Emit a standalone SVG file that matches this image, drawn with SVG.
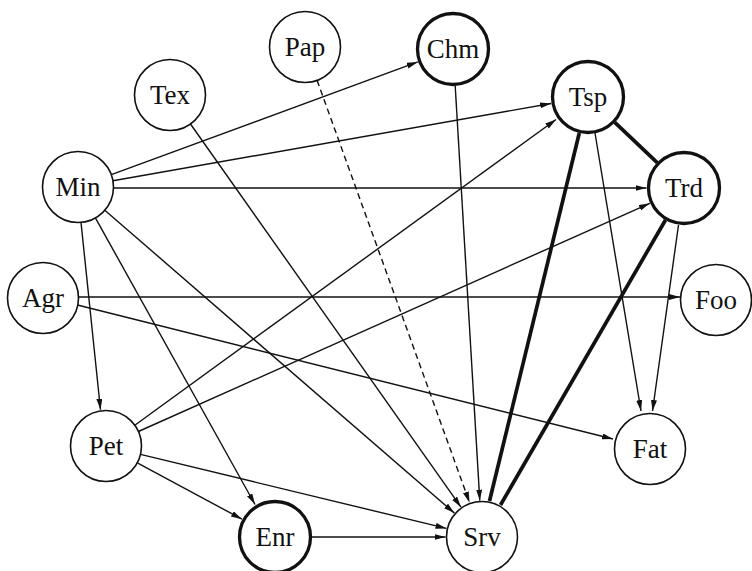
<svg xmlns="http://www.w3.org/2000/svg" width="752" height="571" viewBox="0 0 752 571">
<style>
.n{fill:#fff;stroke:#111;stroke-width:1.6}
.k{fill:#fff;stroke:#111;stroke-width:3.3}
.t{font-family:"Liberation Serif","Times New Roman",serif;font-size:27px;fill:#111;text-anchor:middle}
.e{stroke:#111;stroke-width:1.4;fill:none}
.a{marker-end:url(#ah)}
.d{stroke-dasharray:6,4}
.h{stroke:#111;stroke-width:3.7;fill:none}
</style>
<defs>
<marker id="ah" markerUnits="userSpaceOnUse" markerWidth="12" markerHeight="7" refX="11" refY="3" orient="auto">
<path d="M0,0 L11,3 L0,6 z" fill="#111"/>
</marker>
</defs>
<rect width="752" height="571" fill="#fff"/>
<g id="edges">
<line class="e a" x1="111.3" y1="174.7" x2="417.8" y2="61.9"/>
<line class="e a" x1="113" y1="180.8" x2="551.1" y2="103.5"/>
<line class="e a" x1="113.5" y1="188" x2="646.5" y2="188"/>
<line class="e a" x1="81" y1="222.3" x2="100.5" y2="409.7"/>
<line class="e a" x1="95.4" y1="217.9" x2="255" y2="504.5"/>
<line class="e a" x1="104.8" y1="210.2" x2="454.4" y2="513.1"/>
<line class="e a" x1="190.5" y1="124" x2="461" y2="507.2"/>
<line class="e a d" x1="317.1" y1="80.4" x2="469.6" y2="502.7"/>
<line class="e a" x1="455.2" y1="85.9" x2="479.8" y2="500.6"/>
<line class="h" x1="579.3" y1="133" x2="489.5" y2="501"/>
<line class="h" x1="665.5" y1="220" x2="500.5" y2="505"/>
<line class="h" x1="614.8" y1="122.4" x2="657.2" y2="162.6"/>
<line class="e a" x1="595" y1="133" x2="641" y2="411"/>
<line class="e a" x1="678.5" y1="225" x2="652.5" y2="411"/>
<line class="e a" x1="78.5" y1="297" x2="680" y2="297"/>
<line class="e a" x1="77.4" y1="305" x2="613" y2="439"/>
<line class="e a" x1="134.8" y1="425.2" x2="556" y2="119.5"/>
<line class="e a" x1="138.4" y1="431.5" x2="649.8" y2="203.3"/>
<line class="e a" x1="140.5" y1="454.4" x2="446.5" y2="528.4"/>
<line class="e a" x1="137.3" y1="462.8" x2="242" y2="519.2"/>
<line class="e a" x1="312" y1="537" x2="445.5" y2="537"/>
</g>
<g id="Pap"><circle class="n" cx="305" cy="47" r="35.5"/><text class="t" x="305" y="56">Pap</text></g>
<g id="Chm"><circle class="k" cx="453" cy="49" r="35.5"/><text class="t" x="453" y="58">Chm</text></g>
<g id="Tex"><circle class="n" cx="170" cy="95" r="35.5"/><text class="t" x="170" y="104">Tex</text></g>
<g id="Tsp"><circle class="k" cx="588" cy="97" r="35.5"/><text class="t" x="588" y="106">Tsp</text></g>
<g id="Min"><circle class="n" cx="78" cy="187" r="35.5"/><text class="t" x="78" y="196">Min</text></g>
<g id="Trd"><circle class="k" cx="684" cy="188" r="35.5"/><text class="t" x="684" y="197">Trd</text></g>
<g id="Agr"><circle class="n" cx="43" cy="298" r="35.5"/><text class="t" x="43" y="307">Agr</text></g>
<g id="Foo"><circle class="n" cx="716" cy="300" r="35.5"/><text class="t" x="716" y="309">Foo</text></g>
<g id="Pet"><circle class="n" cx="106" cy="446" r="35.5"/><text class="t" x="106" y="455">Pet</text></g>
<g id="Fat"><circle class="n" cx="650" cy="449" r="35.5"/><text class="t" x="650" y="458">Fat</text></g>
<g id="Enr"><circle class="k" cx="275" cy="537" r="35.5"/><text class="t" x="275" y="546">Enr</text></g>
<g id="Srv"><circle class="n" cx="482" cy="537" r="35.5"/><text class="t" x="482" y="546">Srv</text></g>
</svg>
